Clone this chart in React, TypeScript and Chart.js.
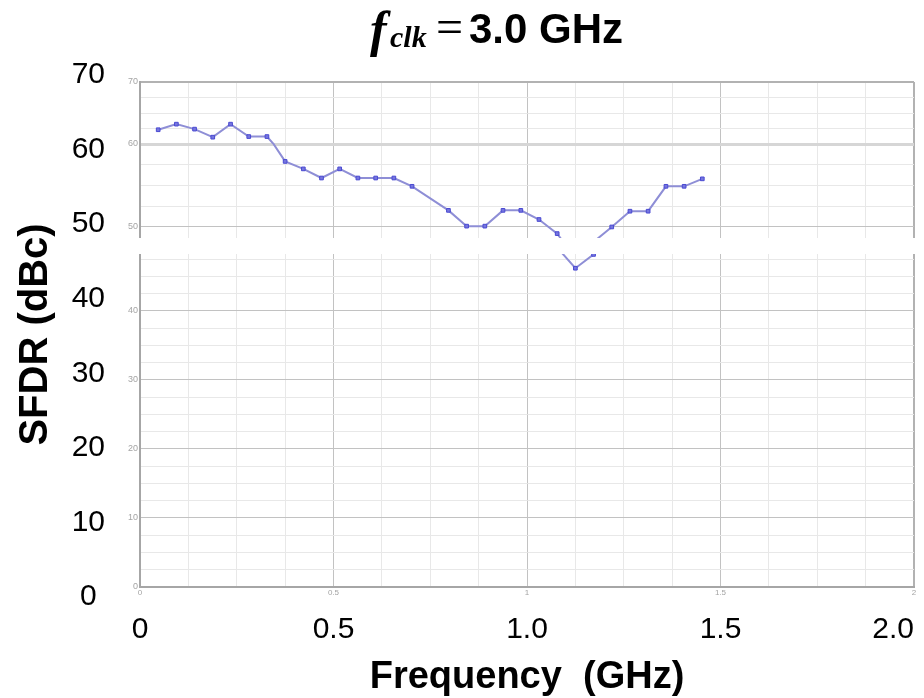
import React, { useEffect, useRef } from 'react';
import { Chart, registerables } from 'chart.js';

Chart.register(...registerables);

// ---- data ----
const FREQ_GHZ = [
  0.047, 0.094, 0.141, 0.188, 0.234, 0.281, 0.328, 0.375, 0.422, 0.469,
  0.516, 0.563, 0.609, 0.656, 0.703, 0.797, 0.844, 0.891, 0.938, 0.984,
  1.031, 1.078, 1.125, 1.172, 1.219, 1.266, 1.313, 1.359, 1.406, 1.453,
];
const SFDR_DBC = [
  62.3, 63.2, 62.4, 61.1, 63.2, 61.2, 61.2, 57.9, 57.0, 55.9,
  57.0, 55.9, 55.9, 55.9, 54.9, 52.0, 50.1, 50.1, 52.0, 52.0,
  50.9, 49.2, 46.2, 48.2, 50.0, 51.9, 51.9, 54.9, 54.9, 55.8,
];

// big outer tick labels
const X_TICK_VALUES = [0, 0.5, 1.0, 1.5, 2.0];
const X_TICK_LABELS = ['0', '0.5', '1.0', '1.5', '2.0'];
const Y_TICK_VALUES = [0, 10, 20, 30, 40, 50, 60, 70];
const Y_TICK_LABELS = ['0', '10', '20', '30', '40', '50', '60', '70'];

// faint inner labels of the embedded plot
const X_INNER_VALUES = [0, 0.5, 1, 1.5, 2];
const X_INNER_LABELS = ['0', '0.5', '1', '1.5', '2'];

// grid positions of the embedded plot
const X_GRID = [0, 0.125, 0.25, 0.375, 0.5, 0.625, 0.75, 0.875, 1, 1.125, 1.25, 1.375, 1.5, 1.625, 1.75, 1.875, 2];
const Y_GRID_UPPER = [62.5, 65, 67.5, 70];
const Y_GRID_MID = [50, 52.5, 55, 57.5, 60];
const Y_GRID_LOWER = [0, 2.5, 5, 7.5, 10, 12.5, 15, 17.5, 20, 22.5, 25, 27.5, 30, 32.5, 35, 37.5, 40, 42.5, 45, 47.5];

const SANS = "'Liberation Sans', Arial, sans-serif";
const MAJOR = '#c2c2c2';
const MINOR = '#e8e8e8';
const FRAME = '#b2b2b2';
const BAND = '#d6d6d6';
const FAINT = '#a4a4a4';

const near = (a: number, b: number) => Math.abs(a - b) < 1e-6;
const isMajor = (v: number, step: number) => near(v / step, Math.round(v / step));

const labelFrom = (values: number[], labels: string[]) => (v: any) => {
  const i = values.findIndex((x) => near(x, Number(v)));
  return i >= 0 ? labels[i] : '';
};

const breakPlugin = {
  id: 'axisBreak',
  beforeDatasetsDraw(chart: any) {
    const g = chart.scales.yGap;
    const { ctx, chartArea } = chart;
    ctx.save();
    ctx.fillStyle = '#ffffff';
    ctx.fillRect(chartArea.left - 3, g.top, chartArea.right - chartArea.left + 8, g.bottom - g.top);
    ctx.restore();
  },
};

export default function App() {
  const ref = useRef<HTMLCanvasElement>(null);

  useEffect(() => {
    if (!ref.current) return;
    const points = FREQ_GHZ.map((x, i) => ({ x, y: SFDR_DBC[i] }));
    const lineStyle = {
      borderColor: '#8e8ed6',
      borderWidth: 2,
      pointStyle: 'rect' as const,
      pointRadius: 2.6,
      pointBackgroundColor: '#7676de',
      pointBorderColor: '#4a4ad2',
      pointBorderWidth: 1,
      tension: 0,
      clip: 0,
    };
    const gridColor = (v: number) => {
      if (near(v, 70)) return FRAME;
      if (near(v, 60)) return BAND;
      return isMajor(v, 10) ? MAJOR : MINOR;
    };
    const gridWidth = (v: number) => (near(v, 60) ? 3 : near(v, 70) ? 2 : 1);
    const innerY = (grid: number[], shown: number[], weight: number, min: number, max: number) => ({
      type: 'linear' as const,
      position: 'left' as const,
      stack: 'plot',
      stackWeight: weight,
      weight: 0,
      min,
      max,
      bounds: 'data' as const,
      afterBuildTicks: (axis: any) => {
        axis.ticks = grid.map((v) => ({ value: v }));
      },
      afterFit: (axis: any) => {
        axis.width = 16;
      },
      ticks: {
        autoSkip: false,
        padding: 2,
        font: { family: SANS, size: 9 },
        color: FAINT,
        callback: (v: any) => (shown.some((s) => near(s, Number(v))) ? String(v) : ''),
      },
      grid: {
        drawTicks: false,
        color: (c: any) => (c.tick ? gridColor(c.tick.value) : MINOR),
        lineWidth: (c: any) => (c.tick ? gridWidth(c.tick.value) : 1),
      },
      border: { display: true, color: '#a6a6a6', width: 2 },
    });

    const chart = new Chart(ref.current, {
      type: 'line',
      data: {
        datasets: [
          { ...lineStyle, data: points, xAxisID: 'x', yAxisID: 'yUpper' },
          { ...lineStyle, data: points, xAxisID: 'x', yAxisID: 'yMid' },
          { ...lineStyle, data: points, xAxisID: 'x', yAxisID: 'yLower' },
        ],
      },
      options: {
        animation: false,
        responsive: false,
        devicePixelRatio: 1,
        layout: { padding: { top: 82, right: 10, bottom: 0, left: 0 } },
        plugins: { legend: { display: false }, tooltip: { enabled: false }, title: { display: false } },
        scales: {
          x: {
            type: 'linear',
            position: 'bottom',
            weight: 0,
            min: 0,
            max: 2,
            bounds: 'data',
            afterBuildTicks: (axis: any) => {
              axis.ticks = X_GRID.map((v) => ({ value: v }));
            },
            afterFit: (axis: any) => {
              axis.height = 14;
              axis.paddingLeft = 0;
              axis.paddingRight = 0;
            },
            ticks: {
              autoSkip: false,
              maxRotation: 0,
              padding: 1,
              font: { family: SANS, size: 8 },
              color: FAINT,
              callback: labelFrom(X_INNER_VALUES, X_INNER_LABELS),
            },
            grid: {
              drawTicks: false,
              color: (c: any) => (c.tick && near(c.tick.value, 2) ? FRAME : c.tick && isMajor(c.tick.value, 0.5) ? MAJOR : MINOR),
              lineWidth: (c: any) => (c.tick && near(c.tick.value, 2) ? 2 : 1),
            },
            border: { display: true, color: '#a6a6a6', width: 2 },
          },
          xOuter: {
            type: 'linear',
            position: 'bottom',
            weight: 1,
            min: 0,
            max: 2,
            bounds: 'data',
            afterBuildTicks: (axis: any) => {
              axis.ticks = [{ value: -1 }, ...X_TICK_VALUES.map((v) => ({ value: v }))];
            },
            afterFit: (axis: any) => {
              axis.height = 97;
              axis.paddingLeft = 0;
              axis.paddingRight = 0;
            },
            ticks: {
              autoSkip: false,
              maxRotation: 0,
              align: 'inner',
              padding: 3,
              font: { family: SANS, size: 30 },
              color: '#000',
              callback: labelFrom(X_TICK_VALUES, X_TICK_LABELS),
            },
            grid: { display: false },
            border: { display: false },
            title: {
              display: true,
              text: 'Frequency  (GHz)',
              color: '#000',
              font: { family: SANS, size: 38, weight: 'bold' },
              padding: { top: 0, bottom: -2 },
            },
          },
          yOuter: {
            type: 'linear',
            position: 'left',
            weight: 1,
            min: 1.341,
            max: 69.06,
            bounds: 'data',
            afterBuildTicks: (axis: any) => {
              axis.ticks = Y_TICK_VALUES.map((v) => ({ value: v }));
            },
            afterFit: (axis: any) => {
              axis.width = 124;
            },
            ticks: {
              autoSkip: false,
              crossAlign: 'center',
              padding: 11,
              font: { family: SANS, size: 30 },
              color: '#000',
              callback: labelFrom(Y_TICK_VALUES, Y_TICK_LABELS),
            },
            grid: { display: false },
            border: { display: false },
            title: {
              display: true,
              text: 'SFDR (dBc)',
              color: '#000',
              font: { family: SANS, size: 40, weight: 'bold' },
              padding: { top: 12, bottom: 0 },
            },
          },
          // stacked sections: Chart.js places the last-declared one on top
          yLower: innerY(Y_GRID_LOWER, [0, 10, 20, 30, 40], 333, 0, 48.26) as any,
          yGap: {
            type: 'linear',
            position: 'left',
            stack: 'plot',
            stackWeight: 16,
            weight: 0,
            min: 0,
            max: 1,
            afterBuildTicks: (axis: any) => {
              axis.ticks = [];
            },
            afterFit: (axis: any) => {
              axis.width = 16;
            },
            ticks: { display: false },
            grid: { display: false },
            border: { display: false },
          },
          yMid: innerY(Y_GRID_MID, [50, 60], 94, 48.67, 60) as any,
          yUpper: innerY(Y_GRID_UPPER, [70], 62, 60, 70) as any,
        },
      } as any,
      plugins: [breakPlugin],
    });
    return () => chart.destroy();
  }, []);

  const serif = "'Liberation Serif', 'Times New Roman', serif";
  const base = { position: 'absolute' as const, whiteSpace: 'nowrap' as const, lineHeight: '50px', color: '#000', top: 4 };
  return (
    <div style={{ position: 'absolute', left: 0, top: 0, width: 924, height: 698, background: '#fff', overflow: 'hidden' }}>
      <canvas ref={ref} width={924} height={698} style={{ position: 'absolute', left: 0, top: 0, width: 924, height: 698 }} />
      <div style={{ position: 'absolute', left: 0, top: 0, width: 924, height: 60 }}>
        <span style={{ ...base, left: 370, fontFamily: serif, fontStyle: 'italic', fontWeight: 'bold', fontSize: 50 }}>f</span>
        <span style={{ ...base, left: 390, top: 12, fontFamily: serif, fontStyle: 'italic', fontWeight: 'bold', fontSize: 30 }}>clk</span>
        <span style={{ ...base, left: 436, top: 2, fontFamily: serif, fontSize: 48 }}>=</span>
        <span style={{ ...base, left: 469, fontFamily: SANS, fontWeight: 'bold', fontSize: 42 }}>3.0 GHz</span>
      </div>
    </div>
  );
}
